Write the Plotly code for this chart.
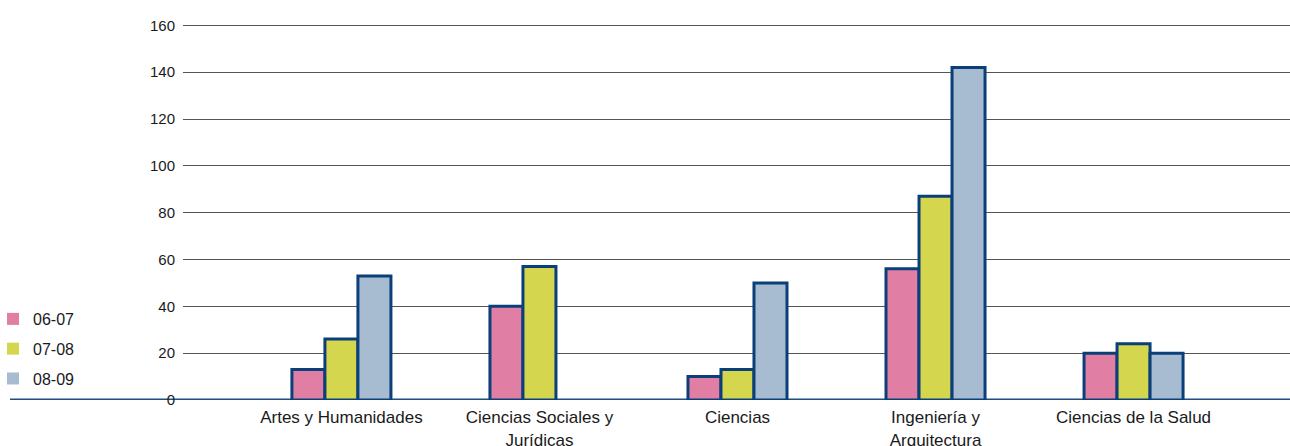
import plotly.graph_objects as go

categories = ["Artes y Humanidades", "Ciencias Sociales y<br>Jurídicas", "Ciencias",
              "Ingeniería y<br>Arquitectura", "Ciencias de la Salud"]
series_names = ["06-07", "07-08", "08-09"]
v_0607 = [13, 40, 10, 56, 20]
v_0708 = [26, 57, 13, 87, 24]
v_0809 = [53, None, 50, 142, 20]
y_ticks = [0, 20, 40, 60, 80, 100, 120, 140, 160]

colors = ["#E07FA3", "#D4D64E", "#A7BCD1"]
edge = "#0B3F7A"
font = "Liberation Sans"

fig = go.Figure()
for name, vals, c in zip(series_names, [v_0607, v_0708, v_0809], colors):
    fig.add_trace(go.Bar(x=categories, y=vals, name=name, showlegend=False,
                         marker=dict(color=c, line=dict(color=edge, width=3))))
for i, (name, c) in enumerate(zip(series_names, colors)):
    fig.add_trace(go.Scatter(x=[None], y=[None], mode="markers", name=name,
                             legendgroup=f"g{i}",
                             marker=dict(symbol="square", size=12, color=c)))

W, H = 1290, 446
L, R, T, B = 183, 0, 23, 46
pw = W - L - R
fig.update_layout(
    width=W, height=H,
    margin=dict(l=L, r=R, t=T, b=B, autoexpand=False),
    paper_bgcolor="white", plot_bgcolor="white",
    barmode="group", bargap=0.5, bargroupgap=0,
    font=dict(family=font, size=16, color="#1a1a1a"),
    legend=dict(x=(-7 - L) / pw, xanchor="left", y=0.26, yanchor="top",
                traceorder="grouped", tracegroupgap=6,
                font=dict(size=16), itemwidth=30, bgcolor="rgba(0,0,0,0)"),
    showlegend=True,
)
fig.update_xaxes(range=[-0.8, 4.79], showgrid=False, zeroline=False, showline=False,
                 ticks="outside", ticklen=2, tickcolor="rgba(0,0,0,0)",
                 tickfont=dict(size=17), automargin=False)
fig.update_yaxes(range=[0, 161], tickvals=y_ticks, showgrid=True, gridcolor="#555555",
                 gridwidth=1, zeroline=False, showline=False,
                 ticks="outside", ticklen=4, tickcolor="rgba(0,0,0,0)",
                 tickfont=dict(size=15), automargin=False)
fig.add_shape(type="line", xref="paper", yref="y", x0=(10 - L) / pw, x1=1, y0=0, y1=0,
              line=dict(color="#1F4E85", width=3), layer="below")
fig.write_html(
    "out.html",
    config={"displayModeBar": False},
    post_script="document.body.style.margin='0';document.body.style.overflow='hidden';",
)
